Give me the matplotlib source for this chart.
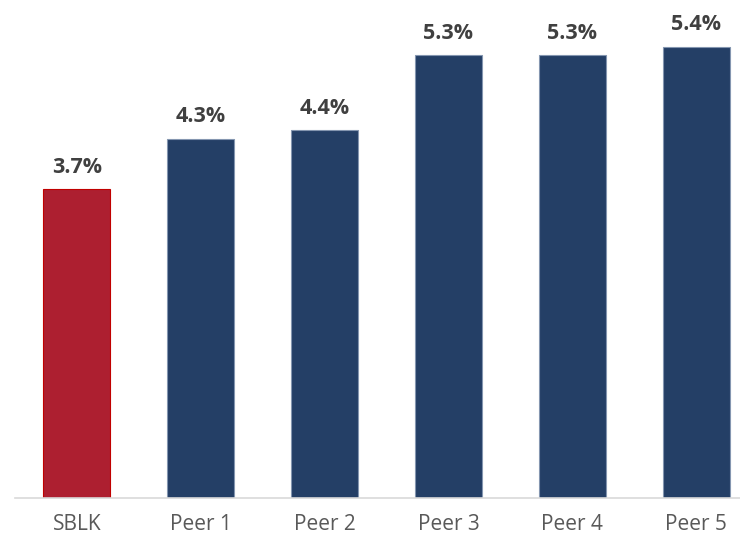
import matplotlib.pyplot as plt
import numpy as np

names = ['SBLK', 'Peer 1', 'Peer 2', 'Peer 3', 'Peer 4', 'Peer 5']
values = [3.7, 4.3, 4.4, 5.3, 5.3, 5.4]
labels = ['3.7%', '4.3%', '4.4%', '5.3%', '5.3%', '5.4%']

red = '#AD1F30'
navy = '#243F66'
colors = [red] + [navy] * 5
edges = ['#C00000'] + ['#8496B0'] * 5

plt.rcParams['font.family'] = ['Open Sans', 'DejaVu Sans']

fig = plt.figure(figsize=(7.4, 5.38), dpi=100)
ymax = 5.9
ax = fig.add_axes([15 / 740, 40 / 538, 743 / 740, ymax * 83.6 / 538])

x = np.arange(len(names))
ax.bar(x, values, width=0.54, color=colors, edgecolor=edges, linewidth=0.8, zorder=2)
for xi, v, lab in zip(x, values, labels):
    ax.annotate(lab, (xi, v), xytext=(0, 8), textcoords='offset points',
                ha='center', va='bottom', fontsize=15.5, fontweight='bold', color='#404040')

ax.set_xlim(-0.5, 5.5)
ax.set_ylim(0, ymax)
ax.set_xticks(x)
ax.set_xticklabels(names, fontsize=15, color='#595959')
ax.tick_params(axis='x', length=0, pad=11.5)
ax.set_yticks([])
for s in ['top', 'right', 'left']:
    ax.spines[s].set_visible(False)
ax.spines['bottom'].set_color('#D9D9D9')
ax.spines['bottom'].set_linewidth(1.2)

fig.savefig('out.png', dpi=100)
